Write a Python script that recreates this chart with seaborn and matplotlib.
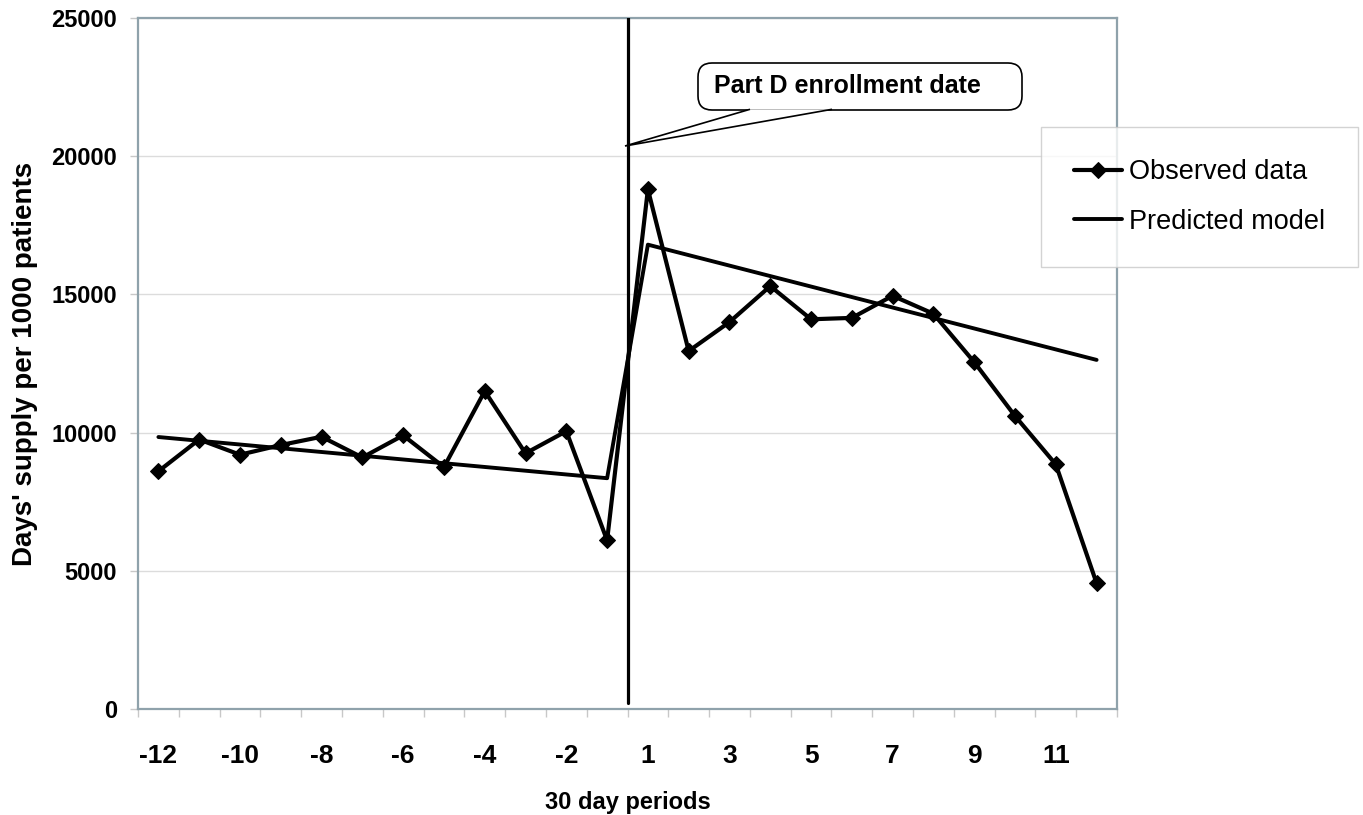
import numpy as np
import pandas as pd
import matplotlib
matplotlib.use("Agg")
import matplotlib.pyplot as plt
from matplotlib.patches import FancyBboxPatch, Polygon
import seaborn as sns

# ---- data ----
periods = [-12, -11, -10, -9, -8, -7, -6, -5, -4, -3, -2, -1,
           1, 2, 3, 4, 5, 6, 7, 8, 9, 10, 11, 12]
observed = [8600, 9750, 9200, 9550, 9850, 9100, 9900, 8750, 11500, 9250, 10050, 6100,
            18800, 12950, 14000, 15300, 14100, 14150, 14950, 14300, 12550, 10600, 8850, 4550]
pred_periods = [-12, -1, 1, 12]
pred_values = [9840, 8350, 16800, 12630]
tick_labels = [-12, -10, -8, -6, -4, -2, 1, 3, 5, 7, 9, 11]
y_ticks = [0, 5000, 10000, 15000, 20000, 25000]
obs_label = "Observed data"
pred_label = "Predicted model"
callout_text = "Part D enrollment date"

sns.set_theme(style="white")
plt.rcParams['font.family'] = ['Liberation Sans', 'DejaVu Sans']
plt.rcParams['text.color'] = 'black'
plt.rcParams['axes.labelcolor'] = 'black'
plt.rcParams['xtick.labelcolor'] = 'black'
plt.rcParams['ytick.labelcolor'] = 'black'

spine_col = '#8fa2ab'

obs_df = pd.DataFrame({"pos": [periods.index(p) for p in periods], "value": observed})
pred_df = pd.DataFrame({"pos": [periods.index(p) for p in pred_periods], "value": pred_values})

fig = plt.figure(figsize=(13.63, 8.15), dpi=100)
ax = fig.add_axes([138/1363, 1-709/815, (1117-138)/1363, (709-18)/815])

sns.lineplot(data=obs_df, x="pos", y="value", ax=ax, color='black', lw=3,
             marker='D', markersize=8, markerfacecolor='black',
             markeredgecolor='black', label=obs_label, zorder=4)
sns.lineplot(data=pred_df, x="pos", y="value", ax=ax, color='black', lw=2.8,
             label=pred_label, zorder=3)

# enrollment date line between -1 and 1
boundary = periods.index(1) - 0.5
ax.axvline(boundary, ymin=0.009, ymax=1, color='black', lw=2.3, zorder=5)

ax.set_xlim(-0.5, len(periods) - 0.5)
ax.set_ylim(0, 25000)
ax.set_yticks(y_ticks)
ax.set_yticklabels([str(v) for v in y_ticks], fontsize=17, fontweight='bold')
tick_pos = [periods.index(p) for p in tick_labels]
ax.set_xticks(tick_pos)
ax.set_xticklabels([str(p) for p in tick_labels], fontsize=19, fontweight='bold')
ax.set_xticks(np.arange(-0.5, len(periods), 1), minor=True)
ax.tick_params(axis='x', which='major', length=0, pad=25)
ax.tick_params(axis='x', which='minor', length=6, width=1, color='#c8c8c8', direction='out', bottom=True)
ax.tick_params(axis='y', which='major', length=6, width=1, color='#c8c8c8', direction='out', left=True, pad=9)

ax.yaxis.grid(True, color='#dcdcdc', lw=1)
ax.xaxis.grid(False)
ax.set_axisbelow(True)
for s in ax.spines.values():
    s.set_visible(True)
    s.set_color(spine_col)
    s.set_linewidth(1.6)

ax.set_xlabel("30 day periods", fontsize=17, fontweight='bold', labelpad=17)
ax.set_ylabel("Days' supply per 1000 patients", fontsize=20, fontweight='bold', labelpad=10)

# callout: rounded box with a pointed tail toward the enrollment line
H = 8.15
box = FancyBboxPatch((6.98, H - 1.10), 10.22 - 6.98, 0.47,
                     boxstyle="round,pad=0,rounding_size=0.14",
                     transform=fig.dpi_scale_trans, fc='white', ec='black', lw=1.2, zorder=7)
box.set_clip_on(False)
ax.add_patch(box)
tail = Polygon([(7.50, H - 1.093), (6.25, H - 1.46), (8.32, H - 1.093)], closed=False,
               transform=fig.dpi_scale_trans, fc='white', ec='black', lw=1.2, zorder=7.5)
tail.set_clip_on(False)
ax.add_patch(tail)
ax.text(16.9, 22540, callout_text, ha='center', va='center', fontsize=18,
        fontweight='bold', zorder=8)

handles, labels = ax.get_legend_handles_labels()
leg = ax.legend(handles, labels, loc='upper left',
                bbox_to_anchor=(1041/1363, 1-127/815), bbox_transform=fig.transFigure,
                fontsize=19.5, frameon=True, fancybox=False, borderaxespad=0,
                borderpad=1.2, labelspacing=0.85, handlelength=1.8, handletextpad=0.25)
leg.get_frame().set_edgecolor('#c8c8c8')
leg.get_frame().set_linewidth(1.0)

fig.savefig("out.png", dpi=100)
